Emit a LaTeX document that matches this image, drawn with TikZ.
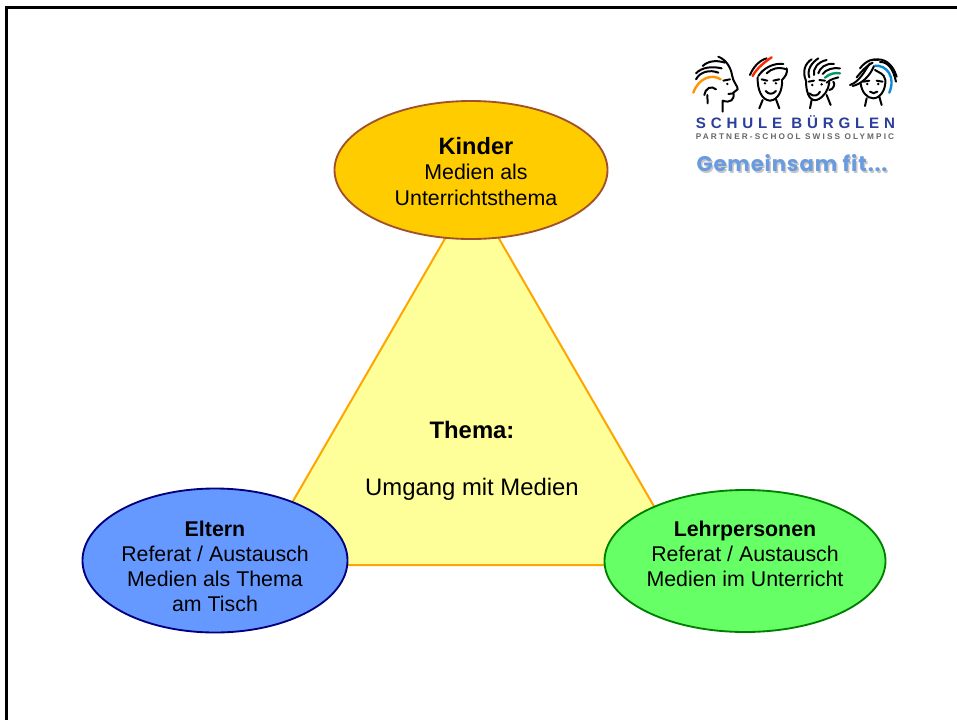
\documentclass[tikz,border=0pt]{standalone}
\usepackage{fontspec}
\setmainfont{Liberation Sans}
\newfontfamily\logofont[LetterSpace=32]{Liberation Sans}
\newfontfamily\partnerfont[LetterSpace=26]{Liberation Sans}
\newfontfamily\fitfont[LetterSpace=4]{Poppins}
\usetikzlibrary{calc}
\definecolor{kinderfill}{HTML}{FFCC00}
\definecolor{kinderline}{HTML}{A0522D}
\definecolor{elternfill}{HTML}{6699FF}
\definecolor{elternline}{HTML}{000080}
\definecolor{lehrerfill}{HTML}{66FF66}
\definecolor{lehrerline}{HTML}{008000}
\definecolor{themafill}{HTML}{FFFF99}
\definecolor{themaline}{HTML}{FFA500}
\definecolor{logoblue}{HTML}{2B3E9A}
\definecolor{fitblue}{HTML}{6A9BDE}
\tikzset{
  x=0.0265cm, y=-0.0265cm,
  bubble/.style={line width=1.4pt},
  bubbletext/.style={align=center, font=\fontsize{16.1}{19}\selectfont},
  hair/.style={line width=1.5pt, line cap=round, line join=round},
}
\begin{document}
\begin{tikzpicture}
\useasboundingbox (0, 0) rectangle (957, 720);
\fill [white] (0, 0) rectangle (957, 720);
\draw [line width=2.3pt] (6.5, 720) -- (6.5, 7.5) -- (957, 7.5);

% triangle
\draw [fill=themafill, draw=themaline, line width=1.5pt, line join=round] (472, 192) -- (688, 565) -- (256, 565) -- cycle;
\node (thema) at (472, 430) {\fontsize{18}{21}\selectfont\bfseries Thema:};
\node (umgang) at (472, 489) {\fontsize{18}{21}\selectfont Umgang mit Medien};

% ellipses
\draw [bubble, fill=kinderfill, draw=kinderline] (471, 170) ellipse (136.5 and 69);
\draw [bubble, fill=elternfill, draw=elternline] (215, 560.5) ellipse (132.5 and 72);
\draw [bubble, fill=lehrerfill, draw=lehrerline] (745, 561) ellipse (140.5 and 71);

\node (kinder) at (476, 171.5) [bubbletext] {{\fontsize{17.8}{19}\selectfont\bfseries Kinder} \\ Medien als \\ Unterrichtsthema};
\node (eltern) at (215, 566.5) [bubbletext] {{\bfseries Eltern} \\ Referat / Austausch \\ Medien als Thema \\ am Tisch};
\node (lehrer) at (745, 554) [bubbletext] {{\bfseries Lehrpersonen} \\ Referat / Austausch \\ Medien im Unterricht};

% logo
\begin{scope}[shift={(670, 40)}, xscale=0.3333, yscale=0.3333]
\draw [hair] (78, 118) .. controls (90, 95) and (120, 88) .. (145, 98);
\draw [hair] (78, 100) .. controls (95, 82) and (125, 78) .. (155, 85);
\draw [hair] (98, 78) .. controls (115, 62) and (140, 60) .. (165, 68);
\draw [hair] (145, 50) .. controls (170, 60) and (183, 85) .. (186, 105) .. controls (188, 125) and (205, 140) .. (203, 148) -- (190, 158) .. controls (195, 180) and (180, 190) .. (158, 182) -- (158, 215);
\draw [hair] (103, 165) .. controls (105, 145) and (125, 135) .. (138, 148);
\draw [hair] (112, 165) -- (113, 190);
\draw [hair, draw=orange!85!yellow, line width=1.8pt] (70, 158) .. controls (85, 115) and (125, 100) .. (152, 118);
\draw [hair] (160, 122) -- (180, 118);
\fill (172, 132) circle (4);
\draw [hair] (175, 162) -- (190, 160);

\draw [hair] (240, 105) .. controls (250, 80) and (270, 60) .. (290, 55);
\draw [hair, draw=red!70!orange, line width=1.8pt] (248, 108) .. controls (260, 85) and (285, 65) .. (305, 52);
\draw [hair] (265, 108) .. controls (280, 85) and (310, 68) .. (340, 72);
\draw [hair] (290, 100) .. controls (305, 85) and (325, 80) .. (350, 88);
\draw [hair] (263, 112) .. controls (262, 150) and (275, 180) .. (300, 182) .. controls (325, 180) and (338, 150) .. (336, 120);
\draw [hair] (336, 120) .. controls (345, 110) and (354, 100) .. (350, 85);
\draw [hair] (278, 180) -- (268, 205);
\draw [hair] (318, 178) -- (328, 205);
\draw [hair] (275, 118) -- (292, 122);
\draw [hair] (310, 122) -- (328, 118);
\fill (285, 130) circle (4);
\fill (318, 130) circle (4);
\draw [hair] (287, 153) .. controls (296, 164) and (308, 164) .. (318, 153);

\draw [hair] (408, 122) .. controls (396, 95) and (405, 70) .. (425, 58);
\draw [hair] (418, 112) .. controls (410, 90) and (425, 68) .. (445, 55);
\draw [hair] (432, 105) .. controls (428, 85) and (445, 65) .. (470, 60);
\draw [hair] (445, 100) .. controls (448, 85) and (468, 68) .. (492, 72);
\draw [hair] (458, 102) .. controls (468, 88) and (490, 82) .. (510, 85);
\draw [hair, draw=teal!80!green, line width=1.8pt] (465, 113) .. controls (480, 100) and (495, 98) .. (510, 100);
\draw [hair] (470, 128) .. controls (485, 115) and (498, 115) .. (505, 112);
\draw [hair] (408, 122) .. controls (408, 150) and (415, 185) .. (440, 180) .. controls (462, 172) and (475, 150) .. (478, 128);
\draw [hair] (478, 150) .. controls (490, 150) and (497, 130) .. (490, 125);
\draw [hair] (425, 180) -- (420, 205);
\draw [hair] (470, 165) -- (482, 195);
\draw [hair] (416, 125) -- (432, 122);
\draw [hair] (448, 120) -- (465, 122);
\fill (427, 135) circle (4);
\fill (455, 133) circle (4);
\draw [hair] (418, 160) .. controls (430, 172) and (445, 167) .. (450, 155);

\draw [hair] (540, 135) .. controls (570, 125) and (585, 90) .. (600, 70);
\draw [hair] (560, 112) .. controls (575, 95) and (585, 80) .. (608, 68);
\draw [hair] (548, 138) .. controls (575, 132) and (600, 108) .. (612, 78);
\draw [hair] (570, 85) .. controls (590, 60) and (610, 55) .. (625, 60);
\draw [hair] (612, 60) .. controls (640, 52) and (668, 70) .. (680, 110);
\draw [hair] (630, 66) .. controls (652, 65) and (670, 85) .. (678, 125);
\draw [hair, draw=cyan!70!blue, line width=1.8pt] (615, 77) .. controls (650, 75) and (678, 110) .. (658, 158);
\draw [hair] (615, 90) .. controls (630, 100) and (642, 100) .. (646, 120) .. controls (648, 150) and (630, 175) .. (610, 175) .. controls (590, 175) and (575, 155) .. (572, 130);
\draw [hair] (590, 175) -- (585, 198);
\draw [hair] (628, 170) -- (635, 195);
\draw [hair] (580, 125) -- (598, 122);
\draw [hair] (620, 122) -- (638, 125);
\fill (592, 132) circle (4);
\fill (625, 132) circle (4);
\draw [hair] (600, 155) .. controls (607, 161) and (615, 161) .. (622, 155);
\end{scope}
\node (schule) at (795.5, 122.5) {\logofont\fontsize{11.4}{13}\selectfont\bfseries\color{logoblue} SCHULE BÜRGLEN};
\node (partner) at (795, 137) {\partnerfont\fontsize{6.2}{8}\selectfont\bfseries\color{black!60} PARTNER-SCHOOL SWISS OLYMPIC};
\node (fitshadow) at (793.5, 165) {\fitfont\fontsize{16}{19}\selectfont\bfseries\color{black!22} Gemeinsam fit...};
\node (fit) at (792, 163) {\fitfont\fontsize{16}{19}\selectfont\bfseries\color{fitblue} Gemeinsam fit...};
\end{tikzpicture}
\end{document}
